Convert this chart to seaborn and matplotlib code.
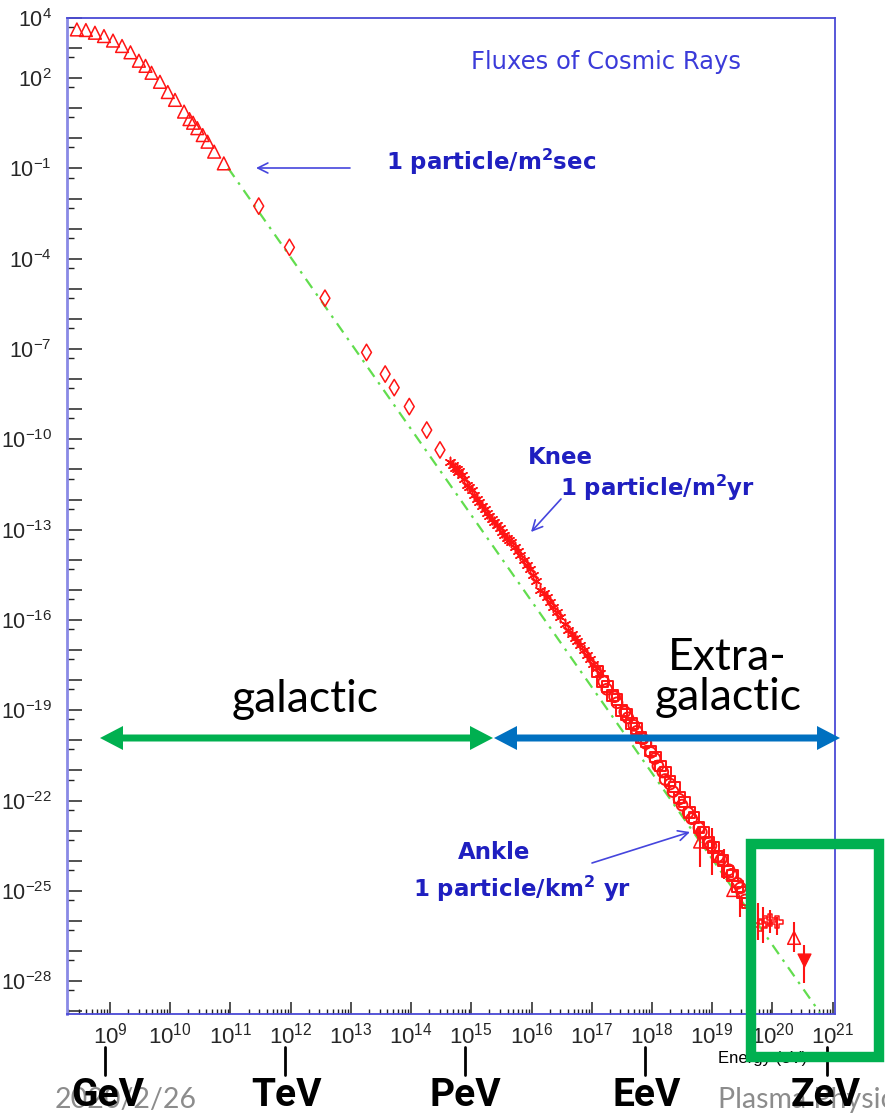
import numpy as np
import matplotlib
matplotlib.use("Agg")
import matplotlib.pyplot as plt
import seaborn as sns
from matplotlib import font_manager
from matplotlib.transforms import Affine2D
from matplotlib.patches import Polygon, Rectangle, FancyArrowPatch
from matplotlib.lines import Line2D
from matplotlib.ticker import FixedLocator, LogLocator, NullFormatter

# ---------------- data (log10 of energy [eV] and flux) ----------------
tri_logE = [8.45, 8.60, 8.75, 8.90, 9.05, 9.20, 9.34, 9.48, 9.59, 9.69, 9.83,
            9.96, 10.08, 10.23, 10.32, 10.38, 10.45, 10.54, 10.62, 10.73, 10.89]
tri_logF = [3.62, 3.60, 3.51, 3.40, 3.25, 3.07, 2.86, 2.58, 2.41, 2.18, 1.88,
            1.54, 1.28, 0.89, 0.64, 0.52, 0.34, 0.11, -0.11, -0.44, -0.83]

dia_logE = [11.47, 11.98, 12.57, 13.26, 13.57, 13.72, 13.97, 14.26, 14.48]
dia_logF = [-2.25, -3.62, -5.31, -7.11, -7.83, -8.28, -8.91, -9.69, -10.35]

star_logE = [14.65, 14.70, 14.73, 14.76, 14.78, 14.80, 14.85, 14.88, 14.93, 14.97,
             15.01, 15.05, 15.09, 15.13, 15.18, 15.22, 15.26, 15.30, 15.35, 15.38,
             15.42, 15.47, 15.51, 15.55, 15.59, 15.62, 15.66, 15.73, 15.77, 15.81,
             15.87, 15.92, 15.97, 16.03, 16.08, 16.14, 16.20, 16.25, 16.30, 16.36,
             16.42, 16.48, 16.55, 16.61, 16.67, 16.72, 16.76, 16.81, 16.87, 16.92,
             16.97, 17.02, 17.08, 17.14]
star_logF = [-10.74, -10.85, -10.95, -10.98, -11.08, -11.05, -11.18, -11.30, -11.51, -11.58,
             -11.68, -11.85, -11.98, -12.08, -12.21, -12.32, -12.45, -12.55, -12.64, -12.75,
             -12.84, -12.95, -13.08, -13.18, -13.28, -13.35, -13.41, -13.56, -13.70, -13.84,
             -14.00, -14.17, -14.32, -14.50, -14.72, -15.00, -15.10, -15.23, -15.40, -15.56,
             -15.72, -15.89, -16.12, -16.33, -16.48, -16.60, -16.70, -16.83, -17.00, -17.16,
             -17.30, -17.46, -17.60, -17.76]

sq_logE = [17.10, 17.18, 17.26, 17.34, 17.42, 17.50, 17.58, 17.66, 17.74, 17.82,
           17.90, 17.98, 18.06, 18.14, 18.22, 18.30, 18.38, 18.46, 18.54, 18.62,
           18.70, 18.78, 18.86, 18.94, 19.02, 19.10, 19.18, 19.26, 19.34, 19.42,
           19.50, 19.58]
sq_logF = [-17.70, -18.05, -18.20, -18.50, -18.65, -19.00, -19.15, -19.45, -19.60, -19.90,
           -20.05, -20.35, -20.55, -20.85, -21.05, -21.35, -21.55, -21.90, -22.05, -22.40,
           -22.55, -22.90, -23.05, -23.40, -23.55, -23.85, -24.00, -24.35, -24.50, -24.85,
           -25.05, -25.40]

circ_logE = [17.20, 17.25, 17.38, 17.42, 17.55, 17.60, 17.70, 17.75, 17.85, 17.90,
             17.98, 18.05, 18.10, 18.18, 18.22, 18.30, 18.35, 18.45, 18.50, 18.60,
             18.66, 18.78, 18.82, 18.95, 18.98, 19.10, 19.15, 19.28, 19.32, 19.42,
             19.47, 19.55]
circ_logF = [-18.05, -18.30, -18.55, -18.75, -19.05, -19.25, -19.50, -19.70, -19.95, -20.10,
             -20.40, -20.60, -20.85, -21.05, -21.30, -21.45, -21.70, -21.95, -22.15, -22.40,
             -22.60, -22.90, -23.05, -23.40, -23.50, -23.85, -23.95, -24.30, -24.45, -24.75,
             -24.90, -25.30]

cross_logE = [19.80, 19.88, 19.96, 20.08]
cross_logF = [-26.13, -26.03, -25.96, -26.03]

trihi_logE = [18.80, 19.35, 20.36]
trihi_logF = [-23.36, -24.97, -26.56]

down_logE = [20.53]
down_logF = [-27.30]

err_logE = [18.80, 19.00, 19.20, 19.47, 19.62, 19.76, 19.85, 19.96, 20.08, 20.36, 20.53]
err_lo = [-24.20, -24.47, -24.60, -25.87, -26.30, -26.63, -26.73, -26.40, -26.47, -27.03, -28.06]
err_hi = [-22.88, -22.91, -23.60, -25.30, -25.20, -25.40, -25.53, -25.63, -25.87, -26.03, -26.80]

fit_logE = [10.96, 20.79]
fit_logF = [-0.98, -29.05]

xlabel_exps = list(range(9, 22))
ylabel_exps = [4, 2, -1, -4, -7, -10, -13, -16, -19, -22, -25, -28]
scale_names = ["GeV", "TeV", "PeV", "EeV", "ZeV"]

# ---------------- style ----------------
sns.set_style("white")
names = {f.name for f in font_manager.fontManager.ttflist}
narrow = "Liberation Sans Narrow" if "Liberation Sans Narrow" in names else "Liberation Sans"
plt.rcParams["font.family"] = ["DejaVu Sans"]
plt.rcParams["mathtext.default"] = "regular"

W, H = 885, 1118
fig = plt.figure(figsize=(W / 100, H / 100), dpi=100)
fig.patch.set_facecolor("white")
pix = Affine2D().scale(1 / W, -1 / H).translate(0, 1) + fig.transFigure

ax = fig.add_axes([67 / W, 1 - 1014 / H, (835 - 67) / W, (1014 - 18) / H])
ax.set_facecolor("white")
ax.set_xscale("log")
ax.set_yscale("log")

RED = "#ff1414"
p = lambda a: 10.0 ** np.asarray(a, dtype=float)

sns.lineplot(x=p(fit_logE), y=p(fit_logF), ax=ax, color="#62dd4e", lw=1.6,
             sort=False, estimator=None)
for ln in ax.lines:
    ln.set_dashes([5, 3, 1.2, 3])

ax.vlines(p(err_logE), p(err_lo), p(err_hi), color=RED, lw=1.5, zorder=3)

sns.scatterplot(x=p(tri_logE), y=p(tri_logF), ax=ax, marker="^", s=85,
                facecolors="none", edgecolor=RED, linewidth=1.1, zorder=4)
sns.scatterplot(x=p(dia_logE), y=p(dia_logF), ax=ax, marker="d", s=70,
                facecolors="none", edgecolor=RED, linewidth=1.1, zorder=4)
sns.scatterplot(x=p(star_logE), y=p(star_logF), ax=ax, marker=(6, 2, 0), s=55,
                color=RED, linewidth=1.1, zorder=4)
sns.scatterplot(x=p(sq_logE), y=p(sq_logF), ax=ax, marker="s", s=60,
                facecolors="none", edgecolor=RED, linewidth=1.4, zorder=4)
sns.scatterplot(x=p(circ_logE), y=p(circ_logF), ax=ax, marker="o", s=60,
                facecolors="none", edgecolor=RED, linewidth=1.4, zorder=4)
sns.scatterplot(x=p(cross_logE), y=p(cross_logF), ax=ax, marker="P", s=75,
                facecolors="none", edgecolor=RED, linewidth=1.1, zorder=4)
sns.scatterplot(x=p(trihi_logE), y=p(trihi_logF), ax=ax, marker="^", s=85,
                facecolors="none", edgecolor=RED, linewidth=1.1, zorder=4)
sns.scatterplot(x=p(down_logE), y=p(down_logF), ax=ax, marker="v", s=85,
                color=RED, edgecolor=RED, linewidth=1.0, zorder=4)

ax.set_xlim(10 ** 8.286, 10 ** 21.04)
ax.set_ylim(10 ** -29.09, 10 ** 4)
ax.set_xlabel("")
ax.set_ylabel("")

# ticks
ax.set_xticks([10.0 ** k for k in xlabel_exps],
              labels=[rf"$10^{{{k}}}$" for k in xlabel_exps],
              fontfamily=narrow, fontsize=16)
ax.xaxis.set_minor_locator(LogLocator(base=10, subs=np.arange(2, 10), numticks=200))
ax.xaxis.set_minor_formatter(NullFormatter())
yk = list(range(-29, 5))
ax.set_yticks([10.0 ** k for k in yk],
              labels=[rf"$10^{{{k}}}$" if k in ylabel_exps else "" for k in yk],
              fontfamily="Liberation Sans", fontsize=15.5)
ax.yaxis.set_minor_locator(FixedLocator([5 * 10.0 ** (k - 1) for k in range(-28, 5)]))
ax.yaxis.set_minor_formatter(NullFormatter())
ax.tick_params(axis="x", which="major", direction="in", length=8.6, width=1.1,
               color="#222222", pad=6, bottom=True, top=False)
ax.tick_params(axis="x", which="minor", direction="in", length=3.6, width=1.0,
               color="#222222", bottom=True, top=False)
ax.tick_params(axis="y", which="major", direction="in", length=10.8, width=1.1,
               color="#222222", pad=11, left=True, right=False)
ax.tick_params(axis="y", which="minor", direction="in", length=5.0, width=1.0,
               color="#222222", left=True, right=False)
for name, s in ax.spines.items():
    s.set_color("#4a4ad6")
    s.set_linewidth(1.3)
    s.set_visible(True)
ax.spines["left"].set_color("#8a8ae6")
ax.spines["left"].set_linewidth(2.0)

# ---------------- annotations ----------------
BLUE_T = "#1f1fc0"
fig.text(471, 62, "Fluxes of Cosmic Rays", transform=pix, ha="left", va="center",
         color="#3b3bd9", fontsize=17.5, family="DejaVu Sans")
bold = dict(transform=pix, ha="left", va="baseline", color=BLUE_T, fontsize=16.5,
            fontweight="bold", family="DejaVu Sans")
fig.text(386, 170, "1 particle/m$^2$sec", **bold)
fig.text(528, 464, "Knee", **bold)
fig.text(560, 496, "1 particle/m$^2$yr", **bold)
fig.text(458, 859, "Ankle", **bold)
fig.text(413, 897, "1 particle/km$^2$ yr", **bold)

def arrow(a, b):
    fig.add_artist(FancyArrowPatch(a, b, transform=pix, arrowstyle="->",
                                   mutation_scale=18, lw=1.2, color="#4545dd",
                                   shrinkA=0, shrinkB=0))

arrow((350, 168), (256, 168))
arrow((561, 499), (531, 532))
arrow((592, 863), (690, 832))

big = dict(transform=pix, ha="center", va="center", color="black", fontsize=32,
           family="Lato")
fig.text(305, 700, "galactic", **big)
fig.text(727, 658, "Extra-", **big)
fig.text(728, 698, "galactic", **big)

def double_arrow(x0, x1, y, color, L=23, w=12, t=3.5):
    pts = [(x0, y), (x0 + L, y - w), (x0 + L, y - t), (x1 - L, y - t), (x1 - L, y - w),
           (x1, y), (x1 - L, y + w), (x1 - L, y + t), (x0 + L, y + t), (x0 + L, y + w)]
    fig.add_artist(Polygon(pts, closed=True, transform=pix, facecolor=color,
                           edgecolor="none", zorder=5))

double_arrow(100, 493, 738, "#00b050")
double_arrow(494, 840, 738, "#0070c0")

# bottom energy scale names
for xpix, name in zip([105, 285, 465, 645, 827], scale_names):
    fig.add_artist(Line2D([xpix, xpix], [1047, 1075], transform=pix, color="black", lw=2))
fig.text(55, 1100, "2020/2/26", transform=pix, ha="left", va="center",
         color="#8c8c8c", fontsize=20.5, family="Lato")
fig.text(718, 1100, "Plasma Physics", transform=pix, ha="left", va="center",
         color="#8c8c8c", fontsize=20.5, family="Lato")
for xpix, name in zip([108, 286, 465, 647, 826], scale_names):
    fig.text(xpix, 1095, name, transform=pix, ha="center", va="center",
             color="black", fontsize=28, fontweight="bold", family="Roboto")

fig.text(718, 1059, "Energy (eV)", transform=pix, ha="left", va="center",
         color="black", fontsize=12, family="Liberation Sans")

fig.add_artist(Rectangle((751, 844), 128, 213, transform=pix, fill=False,
                         edgecolor="#00b050", lw=7.5, zorder=6))

fig.savefig("out.png", dpi=100, facecolor="white")
